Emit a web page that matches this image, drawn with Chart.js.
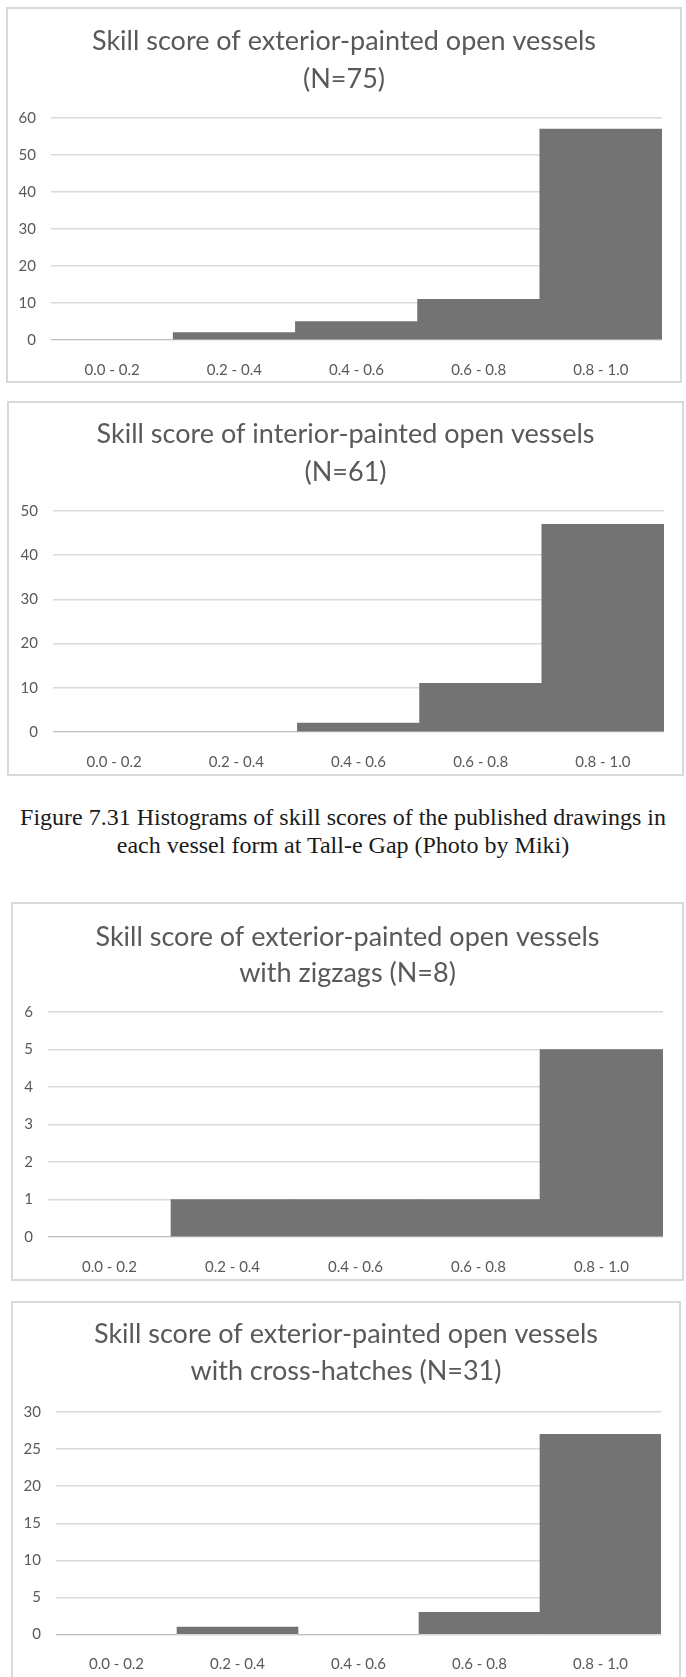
<!DOCTYPE html>
<html>
<head>
<meta charset="utf-8">
<script src="https://cdn.jsdelivr.net/npm/chart.js@4.4.1/dist/chart.umd.min.js"></script>
<style>
  html, body { margin: 0; padding: 0; width: 686px; height: 1677px; overflow: hidden; background: #fff; }
  .panel { position: absolute; box-sizing: border-box; border: 2px solid #d9d9d9; background: #fff; }
  .panel canvas { position: absolute; left: -2px; top: -2px; }
  #caption {
    position: absolute; left: 0; top: 803px; width: 686px;
    text-align: center; font-family: "Liberation Serif", serif;
    font-size: 24px; line-height: 28px; color: #1a1a1a;
  }
</style>
</head>
<body>

<div class="panel" style="left:6px; top:7px; width:676px; height:376px;">
  <canvas id="chart-exterior" width="676" height="376"></canvas>
</div>
<div class="panel" style="left:7px; top:401px; width:677px; height:375px;">
  <canvas id="chart-interior" width="677" height="375"></canvas>
</div>
<div id="caption">Figure 7.31 Histograms of skill scores of the published drawings in<br>each vessel form at Tall-e Gap (Photo by Miki)</div>
<div class="panel" style="left:11px; top:902px; width:673px; height:379px;">
  <canvas id="chart-zigzag" width="673" height="379"></canvas>
</div>
<div class="panel" style="left:11px; top:1301px; width:670px; height:400px;">
  <canvas id="chart-crosshatch" width="670" height="400"></canvas>
</div>

<script>
const scoreBins = ["0.0 - 0.2", "0.2 - 0.4", "0.4 - 0.6", "0.6 - 0.8", "0.8 - 1.0"]

const exteriorCounts = [0, 2, 5, 11, 57]
const interiorCounts = [0, 0, 2, 11, 47]
const zigzagCounts = [0, 1, 1, 1, 5]
const crossHatchCounts = [0, 1, 0, 3, 27]

const exteriorTitle = ["Skill score of exterior-painted open vessels", "(N=75)"]
const interiorTitle = ["Skill score of interior-painted open vessels", "(N=61)"]
const zigzagTitle = ["Skill score of exterior-painted open vessels", "with zigzags (N=8)"]
const crossHatchTitle = ["Skill score of exterior-painted open vessels", "with cross-hatches (N=31)"]

const TEXT_GREY = "#595959"
const GRID_GREY = "#d9d9d9"
const BAR_GREY = "#737373"

// two-line title drawn at fixed heights so the plot area stays put
const panelTitle = {
  id: "panelTitle",
  afterDraw(chart, args, opts) {
    const ctx = chart.ctx
    ctx.save()
    ctx.fillStyle = TEXT_GREY
    ctx.font = "27px Lato, sans-serif"
    ctx.textAlign = "center"
    ctx.textBaseline = "middle"
    opts.lines.forEach((line, i) => {
      ctx.fillText(line, chart.width / 2, opts.y[i])
    })
    ctx.restore()
  }
}

function drawHistogram(htmlId, titleLines, counts, yMax, yStep, frame) {
  const canvas = document.getElementById(htmlId)
  const w = canvas.width
  const h = canvas.height
  return new Chart(canvas, {
    type: "bar",
    data: {
      labels: scoreBins,
      datasets: [{
        data: counts,
        backgroundColor: BAR_GREY,
        borderWidth: 0,
        barPercentage: 1,
        categoryPercentage: 1
      }]
    },
    options: {
      responsive: false,
      animation: false,
      layout: {
        padding: { top: frame.top, right: w - frame.right, bottom: 0, left: 0 }
      },
      plugins: {
        legend: { display: false },
        tooltip: { enabled: false },
        panelTitle: { lines: titleLines, y: frame.titleY }
      },
      scales: {
        x: {
          grid: { display: false },
          border: { display: false },
          ticks: {
            color: TEXT_GREY,
            font: { family: "Lato, sans-serif", size: 15 },
            padding: 13,
            maxRotation: 0
          },
          afterFit(scale) { scale.height = h - frame.bottom }
        },
        y: {
          min: 0,
          max: yMax,
          grid: { color: GRID_GREY, lineWidth: 1.5, drawTicks: false },
          border: { display: false },
          ticks: {
            stepSize: yStep,
            color: TEXT_GREY,
            font: { family: "Lato, sans-serif", size: 15 },
            padding: 15
          },
          afterFit(scale) { scale.width = frame.left }
        }
      }
    },
    plugins: [panelTitle]
  })
}

drawHistogram("chart-exterior", exteriorTitle, exteriorCounts, 60, 10,
  { titleY: [34, 72], top: 111, left: 45, right: 656, bottom: 333 })
drawHistogram("chart-interior", interiorTitle, interiorCounts, 50, 10,
  { titleY: [33, 71], top: 110, left: 46, right: 657, bottom: 331 })
drawHistogram("chart-zigzag", zigzagTitle, zigzagCounts, 6, 1,
  { titleY: [35, 71], top: 110, left: 37, right: 652, bottom: 335 })
drawHistogram("chart-crosshatch", crossHatchTitle, crossHatchCounts, 30, 5,
  { titleY: [33, 70], top: 111, left: 45, right: 650, bottom: 333.5 })
</script>
</body>
</html>
